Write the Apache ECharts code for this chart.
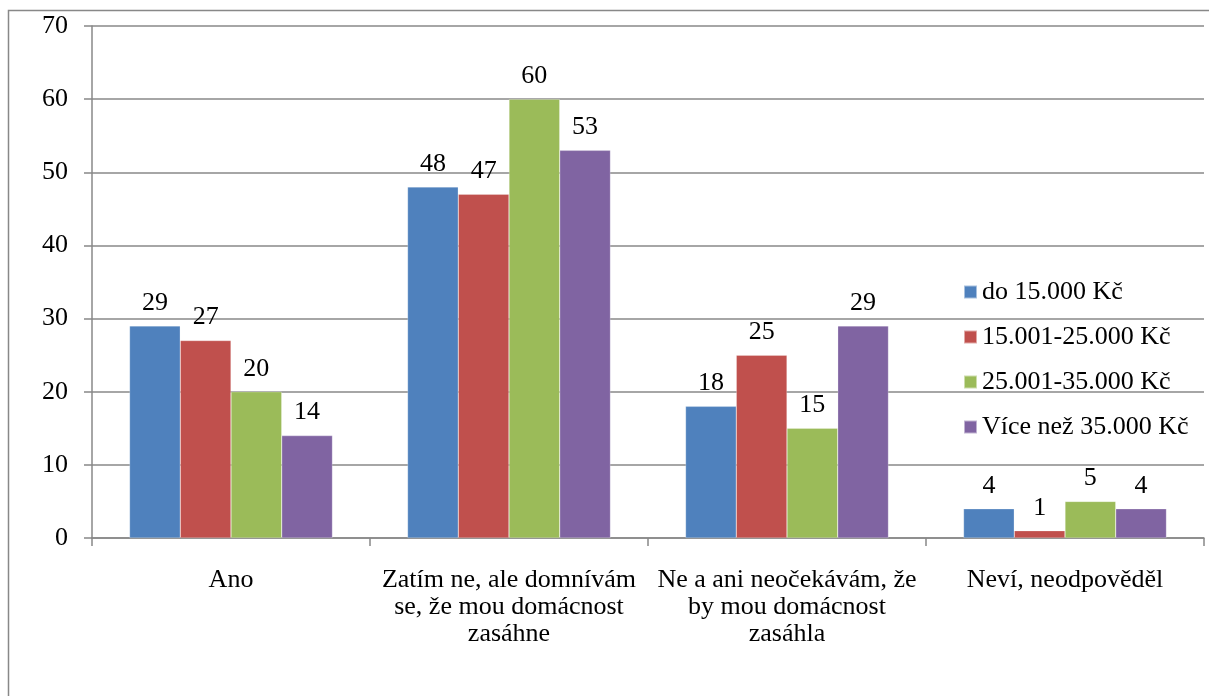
<!DOCTYPE html>
<html><head><meta charset="utf-8">
<script src="https://cdn.jsdelivr.net/npm/echarts@6/dist/echarts.min.js"></script>
<style>html,body{margin:0;padding:0;background:#fff}#c{width:1209px;height:696px}</style>
</head><body><div id="c"></div>
<script>
const categories = ["Ano", "Zatím ne, ale domnívám\nse, že mou domácnost\nzasáhne", "Ne a ani neočekávám, že\nby mou domácnost\nzasáhla", "Neví, neodpověděl"];
const seriesNames = ["do 15.000 Kč", "15.001-25.000 Kč", "25.001-35.000 Kč", "Více než 35.000 Kč"];
const s1 = [29, 48, 18, 4];
const s2 = [27, 47, 25, 1];
const s3 = [20, 60, 15, 5];
const s4 = [14, 53, 29, 4];
const yTicks = [0, 10, 20, 30, 40, 50, 60, 70];
const colors = ["#4F81BD", "#C0504D", "#9BBB59", "#8064A2"];
const font = "'Liberation Serif', 'Times New Roman', serif";
const chart = echarts.init(document.getElementById('c'));
const data = [s1, s2, s3, s4];
chart.setOption({
  animation: false,
  textStyle: {fontFamily: font},
  graphic: [{type: 'rect', shape: {x: 8.5, y: 10.5, width: 1400, height: 1000}, style: {fill: 'none', stroke: '#888', lineWidth: 1.5}, z: -1}],
  grid: {left: 92, right: 5, top: 26, bottom: 158},
  legend: {
    orient: 'vertical', left: 958, top: 274, itemGap: 19, itemWidth: 13, itemHeight: 13, icon: 'rect',
    textStyle: {fontFamily: font, fontSize: 26, color: '#000'},
    data: seriesNames
  },
  xAxis: {
    type: 'category', data: categories,
    axisLine: {lineStyle: {color: '#888', width: 1.5}},
    axisTick: {show: true, length: 8, lineStyle: {color: '#888', width: 1.5}},
    axisLabel: {fontFamily: font, fontSize: 26, color: '#000', margin: 29, lineHeight: 27, interval: 0}
  },
  yAxis: {
    type: 'value', min: yTicks[0], max: yTicks[yTicks.length - 1], interval: 10,
    axisLine: {show: true, lineStyle: {color: '#888', width: 1.5}},
    axisTick: {show: true, length: 8, lineStyle: {color: '#888', width: 1.5}},
    splitLine: {lineStyle: {color: '#888', width: 1.5}},
    axisLabel: {fontFamily: font, fontSize: 26, color: '#000', margin: 24}
  },
  series: seriesNames.map((n, i) => ({
    name: n, type: 'bar', data: data[i], barGap: '0%', barCategoryGap: '27%',
    itemStyle: {color: colors[i], borderColor: 'rgba(255,255,255,0.5)', borderWidth: 0.5},
    label: {show: true, position: 'top', distance: 10, fontFamily: font, fontSize: 26, color: '#000'}
  }))
});
</script></body></html>
